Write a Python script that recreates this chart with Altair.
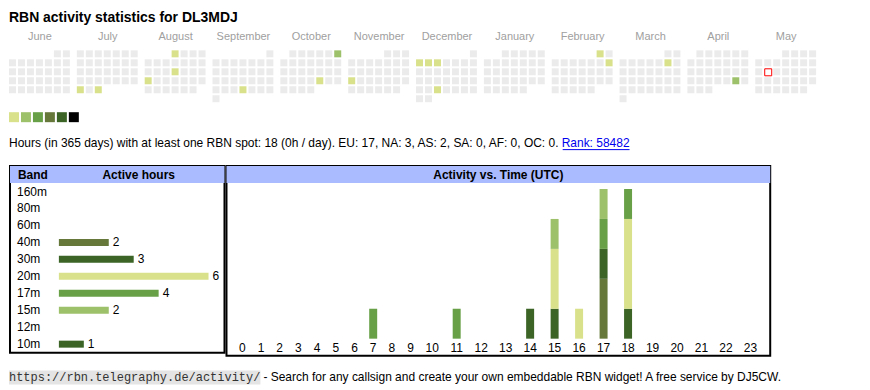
import altair as alt
import pandas as pd

# ---------------- data ----------------
title_text = "RBN activity statistics for DL3MDJ"
month_names = ["June", "July", "August", "September", "October", "November",
               "December", "January", "February", "March", "April", "May"]
active_days = ["2024-07-29", "2024-07-31", "2024-08-01", "2024-08-15", "2024-08-19",
               "2024-09-26", "2024-10-06", "2024-10-25", "2024-11-18", "2024-12-02",
               "2024-12-03", "2024-12-04", "2024-12-25", "2025-02-01", "2025-02-09",
               "2025-03-08", "2025-04-26"]
active_levels = [1, 1, 1, 1, 1, 1, 2, 1, 1, 1, 1, 1, 1, 1, 1, 1, 2]
today = "2025-05-13"
legend_levels = [1, 2, 3, 4, 5, 6]
level_colors = ["#ebebeb", "#d9e18a", "#9dc06a", "#68a047", "#66793a", "#3b6426", "#000000"]

status_text = "Hours (in 365 days) with at least one RBN spot: 18 (0h / day). EU: 17, NA: 3, AS: 2, SA: 0, AF: 0, OC: 0."
rank_text = "Rank: 58482"

bands = ["160m", "80m", "60m", "40m", "30m", "20m", "17m", "15m", "12m", "10m"]
band_hours = [0, 0, 0, 2, 3, 6, 4, 2, 0, 1]
band_color_list = ["#3b6426", "#3b6426", "#3b6426", "#66793a", "#3b6426", "#d9e18a",
                   "#68a047", "#9dc06a", "#3b6426", "#3b6426"]

hour_labels = [str(h) for h in range(24)]
spot_hours = [7, 11, 14, 15, 15, 15, 16, 17, 17, 17, 17, 18, 18, 18]
spot_bands = ["17m", "17m", "30m", "30m", "20m", "15m", "20m", "40m", "30m", "17m", "15m", "10m", "20m", "17m"]
spot_counts = [1, 1, 1, 1, 2, 1, 1, 2, 1, 1, 1, 1, 3, 1]
stack_order = ["10m", "40m", "30m", "20m", "17m", "15m"]  # bottom -> top

footer_url = "https://rbn.telegraphy.de/activity/"
footer_text = "- Search for any callsign and create your own embeddable RBN widget! A free service by DJ5CW."

FONT = "Liberation Sans"
MONO = "Liberation Mono"
HEADER_BG = "#aabbff"
OX = 9  # page x of the chart origin

# ---------------- top section: title, calendar, legend, status ----------------
TOP_W, TOP_H = 853, 155
days = pd.date_range("2024-06-01", "2025-05-31", freq="D")
cal = pd.DataFrame({"date": days})
cal["m"] = (cal["date"].dt.year - 2024) * 12 + cal["date"].dt.month - 6
cal["col"] = cal["date"].dt.weekday
first_wd = cal["date"].apply(lambda d: d.replace(day=1).weekday())
cal["row"] = (cal["date"].dt.day - 1 + first_wd) // 7
cal["x0"] = 8 + cal["m"] * 68 + cal["col"] * 9
cal["x1"] = cal["x0"] + 7
cal["y0"] = 49 + cal["row"] * 9
cal["y1"] = cal["y0"] + 7
lvl = dict(zip(pd.to_datetime(active_days), active_levels))
cal["level"] = cal["date"].map(lambda d: lvl.get(d, 0))
cal["ds"] = cal["date"].dt.strftime("%Y-%m-%d")

xs = alt.Scale(domain=[OX, OX + TOP_W], range=[0, TOP_W])
ys = alt.Scale(domain=[8, 8 + TOP_H], range=[0, TOP_H])
lvl_scale = alt.Scale(domain=list(range(len(level_colors))), range=level_colors)

months = pd.DataFrame({"name": month_names, "m": range(12)})
months["cx"] = 8 + months["m"] * 68 + 31

cells = alt.Chart(cal).mark_rect().encode(
    x=alt.X("x0:Q", scale=xs, axis=None), x2="x1:Q",
    y=alt.Y("y0:Q", scale=ys, axis=None), y2="y1:Q",
    fill=alt.Fill("level:O", scale=lvl_scale, legend=None),
)
today_df = cal[cal["ds"] == today].copy()
today_df["x0"] = today_df["x0"] + 0.5
today_df["x1"] = today_df["x1"] + 0.5
today_df["y0"] = today_df["y0"] + 0.5
today_df["y1"] = today_df["y1"] + 0.5
today_cell = alt.Chart(today_df).mark_rect(
    fill="white", stroke="#ff0000", strokeWidth=1
).encode(
    x=alt.X("x0:Q", scale=xs, axis=None), x2="x1:Q",
    y=alt.Y("y0:Q", scale=ys, axis=None), y2="y1:Q",
)
month_text = alt.Chart(months).mark_text(
    font=FONT, fontSize=11, color="#a0a0a0", align="center", baseline="alphabetic"
).encode(
    x=alt.X("cx:Q", scale=xs, axis=None), y=alt.value(30.5), text="name:N"
)
leg = pd.DataFrame({"level": legend_levels})
leg["x0"] = 8 + (leg["level"] - 1) * 12
leg["x1"] = leg["x0"] + 10
leg["y0"] = 111
leg["y1"] = 121
swatches = alt.Chart(leg).mark_rect().encode(
    x=alt.X("x0:Q", scale=xs, axis=None), x2="x1:Q",
    y=alt.Y("y0:Q", scale=ys, axis=None), y2="y1:Q",
    fill=alt.Fill("level:O", scale=lvl_scale, legend=None),
)
title = alt.Chart(pd.DataFrame({"t": [title_text]})).mark_text(
    font=FONT, fontSize=14, fontWeight="bold", color="black", align="left", baseline="alphabetic"
).encode(x=alt.value(8 - OX), y=alt.value(13), text="t:N")
status = alt.Chart(pd.DataFrame({"t": [status_text]})).mark_text(
    font=FONT, fontSize=12, color="black", align="left", baseline="alphabetic"
).encode(x=alt.value(8 - OX), y=alt.value(138), text="t:N")
rank = alt.Chart(pd.DataFrame({"t": [rank_text]})).mark_text(
    font=FONT, fontSize=12, color="#0000ee", align="right", baseline="alphabetic"
).encode(x=alt.value(630 - OX), y=alt.value(138), text="t:N")
rank_ul = alt.Chart(pd.DataFrame({"t": [rank_text]})).mark_rule(color="#0000ee", strokeWidth=1).encode(
    x=alt.value(563 - OX), x2=alt.value(630 - OX), y=alt.value(140.5)
)
top = alt.layer(cells, today_cell, month_text, swatches, title, status, rank, rank_ul).properties(
    width=TOP_W, height=TOP_H
)

# ---------------- band table ----------------
BT_W, ROW = 215, 17
band_df = pd.DataFrame({"band": bands, "hours": band_hours})
rows_domain = ["hdr"] + bands
yb = alt.Scale(domain=rows_domain, range=[0, ROW * len(rows_domain)], paddingInner=0, paddingOuter=0)
band_scale = alt.Scale(domain=bands, range=band_color_list)

hdr_rect = alt.Chart(pd.DataFrame({"r": ["hdr"]})).mark_rect(fill=HEADER_BG).encode(
    x=alt.value(0), x2=alt.value(BT_W), y=alt.Y("r:N", scale=yb, axis=None)
)
hdr_band = alt.Chart(pd.DataFrame({"r": ["hdr"], "t": ["Band"]})).mark_text(
    font=FONT, fontSize=12, fontWeight="bold", color="black", align="left", baseline="middle"
).encode(x=alt.value(8), y=alt.Y("r:N", scale=yb, axis=None, bandPosition=0.5), text="t:N")
hdr_hours = alt.Chart(pd.DataFrame({"r": ["hdr"], "t": ["Active hours"]})).mark_text(
    font=FONT, fontSize=12, fontWeight="bold", color="black", align="center", baseline="middle"
).encode(x=alt.value(129), y=alt.Y("r:N", scale=yb, axis=None, bandPosition=0.5), text="t:N")
band_lbl = alt.Chart(band_df).mark_text(
    font=FONT, fontSize=12, color="black", align="left", baseline="middle"
).encode(x=alt.value(7), y=alt.Y("band:N", scale=yb, axis=None, bandPosition=0.5), text="band:N")
xh = alt.Scale(domain=[0, 6], range=[49, 199])
bars = alt.Chart(band_df[band_df["hours"] > 0]).mark_bar(size=7).encode(
    x=alt.X("hours:Q", scale=xh, axis=None),
    y=alt.Y("band:N", scale=yb, axis=None),
    color=alt.Color("band:N", scale=band_scale, legend=None),
)
bar_lbl = alt.Chart(band_df[band_df["hours"] > 0]).mark_text(
    font=FONT, fontSize=12, color="black", align="left", baseline="middle", dx=4
).encode(
    x=alt.X("hours:Q", scale=xh, axis=None),
    y=alt.Y("band:N", scale=yb, axis=None, bandPosition=0.5),
    text="hours:Q",
)
band_chart = alt.layer(hdr_rect, band_lbl, bars, bar_lbl, hdr_band, hdr_hours).properties(
    width=BT_W, height=ROW * len(rows_domain),
    view=alt.ViewBackground(stroke="black", strokeWidth=2),
)

# ---------------- activity vs time ----------------
AC_W, AC_H = 545, 190
widths = [13.2 + 5.9 * len(s) for s in hour_labels]  # table columns sized by label width
centers, acc = [], 1.45
for w in widths:
    centers.append(acc + w / 2)
    acc += w
hours_df = pd.DataFrame({"hour": list(range(24)), "label": hour_labels, "xpos": centers})
spots = pd.DataFrame({"hour": spot_hours, "band": spot_bands, "count": spot_counts})
spots["ord"] = spots["band"].map(lambda b: stack_order.index(b))
spots = spots.merge(hours_df[["hour", "xpos"]], on="hour")
xa = alt.Scale(domain=[0, AC_W], range=[0, AC_W])
ya = alt.Scale(domain=[0, 5], range=[173, 23])

ac_hdr = alt.Chart(pd.DataFrame({"t": ["Activity vs. Time (UTC)"]})).mark_rect(fill=HEADER_BG).encode(
    x=alt.value(0), x2=alt.value(AC_W), y=alt.value(0), y2=alt.value(ROW)
)
ac_title = alt.Chart(pd.DataFrame({"t": ["Activity vs. Time (UTC)"]})).mark_text(
    font=FONT, fontSize=12, fontWeight="bold", color="black", align="center", baseline="middle"
).encode(x=alt.value(AC_W / 2), y=alt.value(ROW / 2 + 0.5), text="t:N")
ac_bars = alt.Chart(spots).mark_bar(size=8, orient="vertical").encode(
    x=alt.X("xpos:Q", scale=xa, axis=None),
    y=alt.Y("count:Q", scale=ya, axis=None, stack="zero"),
    color=alt.Color("band:N", scale=band_scale, legend=None),
    order=alt.Order("ord:Q", sort="ascending"),
)
ac_lbl = alt.Chart(hours_df).mark_text(
    font=FONT, fontSize=12, color="black", align="center", baseline="middle"
).encode(x=alt.X("xpos:Q", scale=xa, axis=None), y=alt.value(182), text="label:N")
act_chart = alt.layer(ac_hdr, ac_title, ac_bars, ac_lbl).properties(
    width=AC_W, height=AC_H,
    view=alt.ViewBackground(stroke="black", strokeWidth=2),
)

# ---------------- footer ----------------
mono_w = len(footer_url) * 0.6 * 12
f_bg = alt.Chart(pd.DataFrame({"t": [footer_url]})).mark_rect(fill="#e4e4e4").encode(
    x=alt.value(8 - OX), x2=alt.value(8 - OX + mono_w), y=alt.value(13), y2=alt.value(27)
)
f_url = alt.Chart(pd.DataFrame({"t": [footer_url]})).mark_text(
    font=MONO, fontSize=12, color="#333333", align="left", baseline="alphabetic"
).encode(x=alt.value(8 - OX), y=alt.value(23), text="t:N")
f_txt = alt.Chart(pd.DataFrame({"t": [footer_text]})).mark_text(
    font=FONT, fontSize=12, color="black", align="left", baseline="alphabetic"
).encode(x=alt.value(8 - OX + mono_w + 3), y=alt.value(23), text="t:N")
footer = alt.layer(f_bg, f_url, f_txt).properties(width=TOP_W, height=28)

chart = alt.vconcat(
    top,
    alt.hconcat(band_chart, act_chart, spacing=2, bounds="flush"),
    footer,
    spacing=0,
).properties(padding=0, background="white").configure_view(stroke="transparent")

chart.save("out.html", embed_options={"renderer": "svg", "actions": False})
